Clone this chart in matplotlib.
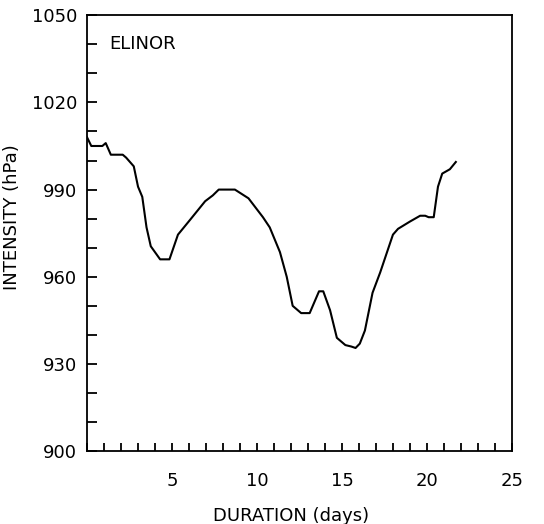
import numpy as np
from matplotlib import pyplot as plt
from matplotlib.ticker import MultipleLocator

# storm track
storm_name = "ELINOR"
days = [0.0, 0.25, 0.9, 1.1, 1.4, 2.1, 2.3, 2.75, 3.0, 3.25, 3.5, 3.75,
        4.3, 4.85, 5.35, 6.05, 6.95, 7.4, 7.75, 8.7, 9.5, 10.35, 10.75,
        11.35, 11.75, 12.1, 12.6, 13.1, 13.65, 13.9, 14.3, 14.7, 15.2,
        15.55, 15.8, 16.05, 16.35, 16.8, 17.25, 18.0, 18.3, 19.0, 19.6,
        19.9, 20.1, 20.4, 20.65, 20.9, 21.35, 21.7]
pressure = [1008, 1005, 1005, 1006, 1002, 1002, 1001, 998, 991, 987.5,
            977, 970.5, 966, 966, 974.5, 979.5, 986, 988, 990, 990, 987,
            980.5, 977, 968.5, 960, 950, 947.5, 947.5, 955, 955, 948.5,
            939, 936.5, 936, 935.5, 937, 941.5, 954.5, 961.5, 974.5, 976.5,
            979, 981, 981, 980.5, 980.5, 991, 995.5, 997, 999.5]

x_labels = [5, 10, 15, 20, 25]
y_labels = [900, 930, 960, 990, 1020, 1050]

fig = plt.figure(figsize=(5.44, 5.24), dpi=100)
ax = fig.add_axes([0.16, 0.139, 0.781, 0.832])

ax.plot(days, pressure, color='black', lw=1.5)

ax.set_xlim(0, 25)
ax.set_ylim(900, 1050)
ax.set_xticks(x_labels)
ax.xaxis.set_minor_locator(MultipleLocator(1))
ax.set_yticks(y_labels)
ax.yaxis.set_minor_locator(MultipleLocator(10))

ax.tick_params(which='both', direction='in', top=False, right=False,
               width=1.3, labelsize=13)
ax.tick_params(axis='x', which='both', length=6, pad=15)
ax.tick_params(axis='y', which='both', length=7, pad=7)
for s in ax.spines.values():
    s.set_linewidth(1.3)

ax.set_xlabel("DURATION (days)", fontsize=13, va='top')
ax.xaxis.set_label_coords(0.48, -0.128)
ax.set_ylabel("INTENSITY (hPa)", fontsize=13)
ax.yaxis.set_label_coords(-0.155, 0.537)
ax.text(0.052, 0.955, storm_name, transform=ax.transAxes,
        fontsize=13, va='top', ha='left')

fig.savefig("out.png", dpi=100)
